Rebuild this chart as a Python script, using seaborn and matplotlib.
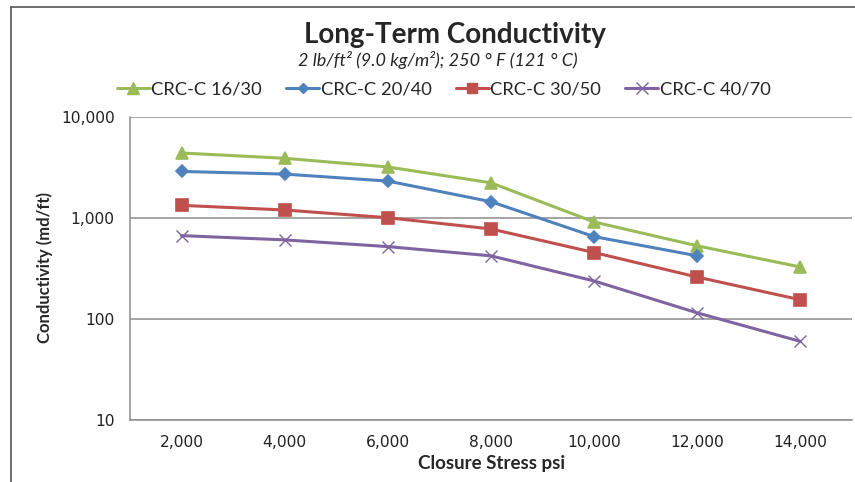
import pandas as pd
import matplotlib.pyplot as plt
import matplotlib.ticker as mticker
from matplotlib.lines import Line2D
import seaborn as sns

sns.set_theme(style="white")
plt.rcParams['font.family'] = ['Lato', 'DejaVu Sans']

stress = ['2,000', '4,000', '6,000', '8,000', '10,000', '12,000', '14,000']
crc_16_30 = [4400, 3900, 3200, 2230, 913, 530, 327]
crc_20_40 = [2890, 2720, 2320, 1450, 654, 422, None]
crc_30_50 = [1334, 1200, 1007, 779, 455, 260, 155]
crc_40_70 = [669, 607, 521, 422, 238, 115, 60]

series = {
    'CRC-C 16/30': crc_16_30,
    'CRC-C 20/40': crc_20_40,
    'CRC-C 30/50': crc_30_50,
    'CRC-C 40/70': crc_40_70,
}
colors = {'CRC-C 16/30': '#9BBB59', 'CRC-C 20/40': '#4F81BD',
          'CRC-C 30/50': '#C0504D', 'CRC-C 40/70': '#8064A2'}
markers = {'CRC-C 16/30': '^', 'CRC-C 20/40': 'D',
           'CRC-C 30/50': 's', 'CRC-C 40/70': 'x'}
msizes = {'CRC-C 16/30': 9, 'CRC-C 20/40': 6.5,
          'CRC-C 30/50': 8.5, 'CRC-C 40/70': 9}

rows = []
for name, vals in series.items():
    for s, v in zip(stress, vals):
        if v is not None:
            rows.append({'Stress': s, 'Conductivity': v, 'Product': name})
df = pd.DataFrame(rows)

fig = plt.figure(figsize=(8.55, 4.82), dpi=100)
ax = fig.add_axes([0.152, 0.1286, 0.8445, 0.6287])

for name in series:
    sub = df[df['Product'] == name]
    sns.lineplot(data=sub, x='Stress', y='Conductivity', ax=ax,
                 color=colors[name], marker=markers[name],
                 markersize=msizes[name], markeredgecolor=colors[name],
                 markeredgewidth=1.2 if name != 'CRC-C 40/70' else 1.0,
                 linewidth=2.2, sort=False, label=name, legend=False)

ax.set_yscale('log')
ax.set_ylim(10, 10000)
ax.set_xlim(-0.5, 6.5)
ax.yaxis.set_major_locator(mticker.LogLocator(base=10, numticks=10))
ax.yaxis.set_minor_locator(mticker.NullLocator())
ax.yaxis.set_major_formatter(mticker.FuncFormatter(lambda v, p: f'{int(v):,}'))
ax.grid(axis='y', which='major', color='#8c8c8c', linewidth=1.1)
ax.grid(axis='x', visible=False)

ax.set_xticks(range(len(stress)))
ax.set_xticklabels(stress)
ax.set_xticks([i - 0.5 for i in range(len(stress) + 1)], minor=True)
ax.tick_params(axis='x', which='major', length=0, pad=11)
ax.tick_params(axis='x', which='minor', length=5, color='#8c8c8c', direction='in')
ax.tick_params(axis='y', which='major', length=5, color='#8c8c8c', direction='out', pad=6)
for lab in ax.get_xticklabels() + ax.get_yticklabels():
    lab.set_fontfamily('DejaVu Sans')
    lab.set_fontsize(11.2)
    lab.set_color('#222222')

for side in ['top', 'right']:
    ax.spines[side].set_visible(False)
for side in ['left', 'bottom']:
    ax.spines[side].set_color('#8c8c8c')
    ax.spines[side].set_linewidth(1.1)

ax.set_xlabel('Closure Stress psi', fontsize=13.5, fontweight='bold')
ax.set_ylabel('Conductivity (md/ft)', fontsize=12, fontweight='bold')
ax.xaxis.set_label_coords(0.501, -0.115)
ax.yaxis.set_label_coords(-0.106, 0.502)

fig.text(0.532, 0.927, 'Long-Term Conductivity', ha='center', va='center',
         fontsize=20, fontweight='bold')
fig.text(0.512, 0.875, '2 lb/ft² (9.0 kg/m²); 250 ° F (121 ° C)', ha='center',
         va='center', fontsize=13, style='italic')

handles = [Line2D([], [], color=colors[n], marker=markers[n], markersize=msizes[n] - 1,
                  markeredgecolor=colors[n], linewidth=2.2) for n in series]
fig.legend(handles, list(series.keys()), loc='center', bbox_to_anchor=(0.519, 0.815),
           ncol=4, frameon=False, fontsize=13.2, handlelength=1.8,
           handletextpad=0.1, columnspacing=1.3)

fig.add_artist(Line2D([0.013, 1.0], [0.985, 0.985], color='#555555', linewidth=1.2))
fig.add_artist(Line2D([0.013, 0.013], [0.0, 0.985], color='#555555', linewidth=1.2))

fig.savefig('out.png', dpi=100)
